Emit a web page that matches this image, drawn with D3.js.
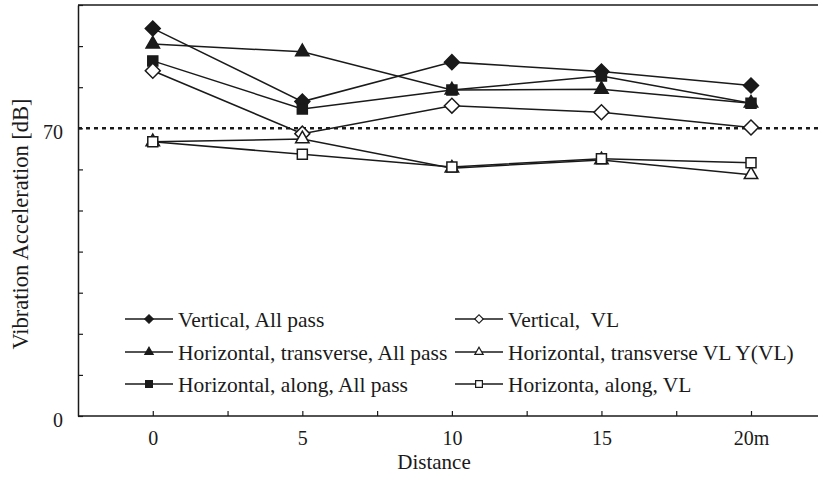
<!DOCTYPE html>
<html>
<head>
<meta charset="utf-8">
<script src="https://cdn.jsdelivr.net/npm/d3@7"></script>
<style>
  body { margin: 0; background: #fff; }
  text { font-family: "Liberation Serif", "Times New Roman", serif; fill: #1a1a1a; }
</style>
</head>
<body>
<svg width="818" height="479"></svg>
<script>
var distances = [0, 5, 10, 15, 20];
var xTickLabels = ["0", "5", "10", "15", "20m"];
var yTickLabels = {0: "0", 70: "70"};

var vertAll = [94.3, 76.5, 86.1, 83.8, 80.4];
var horTransAll = [90.5, 88.6, 79.3, 79.5, 76.1];
var horAlongAll = [86.4, 74.7, 79.3, 82.7, 76.1];
var vertVL = [84.0, 68.7, 75.5, 73.9, 70.2];
var horTransVL = [66.7, 67.4, 60.3, 62.3, 58.7];
var horAlongVL = [66.7, 63.7, 60.6, 62.6, 61.6];
var threshold = 70;

var series = [
  {name: "Vertical, All pass", values: vertAll, shape: "diamond", filled: true},
  {name: "Horizontal, transverse, All pass", values: horTransAll, shape: "triangle", filled: true},
  {name: "Horizontal, along, All pass", values: horAlongAll, shape: "square", filled: true},
  {name: "Vertical,  VL", values: vertVL, shape: "diamond", filled: false},
  {name: "Horizontal, transverse VL Y(VL)", values: horTransVL, shape: "triangle", filled: false},
  {name: "Horizonta, along, VL", values: horAlongVL, shape: "square", filled: false}
];

var svg = d3.select("svg"),
    margin = {top: 5, right: 0, bottom: 63, left: 78},
    width = +svg.attr("width") - margin.left - margin.right,
    height = +svg.attr("height") - margin.top - margin.bottom,
    g = svg.append("g").attr("transform", "translate(" + margin.left + "," + margin.top + ")");

var x = d3.scaleLinear().domain([-2.5, 22.24]).range([0, width]);
var y = d3.scaleLinear().domain([0, 100]).range([height, 0]);

// frame: top line, left and bottom axes
g.append("line").attr("x1", 0).attr("x2", width).attr("y1", 0).attr("y2", 0)
  .attr("stroke", "#1a1a1a").attr("stroke-width", 1.5);

var xAxis = g.append("g")
  .attr("transform", "translate(0," + height + ")")
  .call(d3.axisBottom(x)
    .tickValues(d3.range(0, 22.5, 2.5))
    .tickSizeInner(-5).tickSizeOuter(0)
    .tickFormat(function(d) { var i = distances.indexOf(d); return i < 0 ? "" : xTickLabels[i]; }));
xAxis.select(".domain").attr("stroke", "#1a1a1a").attr("stroke-width", 1.5).attr("d", "M0,0H" + width);
xAxis.selectAll(".tick line").attr("stroke", "#1a1a1a").attr("stroke-width", 1.2);
xAxis.selectAll(".tick text").attr("y", 22).attr("dy", "0.35em").style("font-size", "20px").attr("fill", "#1a1a1a");

var yAxis = g.append("g")
  .call(d3.axisLeft(y)
    .tickValues(d3.range(0, 101, 10))
    .tickSizeInner(-5).tickSizeOuter(0)
    .tickFormat(function(d) { return yTickLabels[d] || ""; }));
yAxis.select(".domain").attr("stroke", "#1a1a1a").attr("stroke-width", 1.5);
yAxis.selectAll(".tick line").attr("stroke", "#1a1a1a").attr("stroke-width", 1.2);
yAxis.selectAll(".tick text").attr("x", -15).attr("dy", "0.5em").style("font-size", "20px").attr("fill", "#1a1a1a");

// dotted 70 dB line
g.append("line")
  .attr("x1", 0).attr("x2", width)
  .attr("y1", y(threshold)).attr("y2", y(threshold))
  .attr("stroke", "#1a1a1a").attr("stroke-width", 2.5)
  .attr("stroke-dasharray", "4,4");

// diamond = square turned 45 degrees
var symbolFor = {diamond: d3.symbolSquare, triangle: d3.symbolTriangle, square: d3.symbolSquare};
var rotateFor = {diamond: 45, triangle: 0, square: 0};
var sizeFor = {diamond: 112, triangle: 78, square: 100};
var legendSizeFor = {diamond: 36, triangle: 30, square: 46};

var line = d3.line()
  .x(function(d, i) { return x(distances[i]); })
  .y(function(d) { return y(d); });

series.forEach(function(s) {
  g.append("path")
    .datum(s.values)
    .attr("fill", "none")
    .attr("stroke", "#1a1a1a")
    .attr("stroke-width", 1.5)
    .attr("d", line);
});

series.forEach(function(s) {
  g.selectAll(null)
    .data(s.values)
    .enter().append("path")
      .attr("transform", function(d, i) {
        return "translate(" + x(distances[i]) + "," + y(d) + ") rotate(" + rotateFor[s.shape] + ")";
      })
      .attr("d", d3.symbol().type(symbolFor[s.shape]).size(sizeFor[s.shape]))
      .attr("fill", s.filled ? "#1a1a1a" : "#fff")
      .attr("stroke", "#1a1a1a")
      .attr("stroke-width", 1.5);
});

// legend
var legend = svg.append("g");
var legendCols = [125, 455], legendRows = [319, 352, 384];
series.forEach(function(s, i) {
  var col = Math.floor(i / 3), row = i % 3;
  var lx = legendCols[col], ly = legendRows[row];
  var item = legend.append("g").attr("transform", "translate(" + lx + "," + ly + ")");
  item.append("line").attr("x1", 0).attr("x2", 48).attr("y1", 0).attr("y2", 0)
    .attr("stroke", "#1a1a1a").attr("stroke-width", 1.5);
  item.append("path")
    .attr("transform", "translate(24,0) rotate(" + rotateFor[s.shape] + ")")
    .attr("d", d3.symbol().type(symbolFor[s.shape]).size(legendSizeFor[s.shape]))
    .attr("fill", s.filled ? "#1a1a1a" : "#fff")
    .attr("stroke", "#1a1a1a").attr("stroke-width", 1.2);
  item.append("text").attr("x", 53).attr("dy", "0.35em")
    .style("font-size", "21.5px").style("white-space", "pre")
    .attr("xml:space", "preserve")
    .text(s.name);
});

// axis titles
svg.append("text")
  .attr("x", 434).attr("y", 469)
  .attr("text-anchor", "middle")
  .style("font-size", "21px")
  .text("Distance");

svg.append("text")
  .attr("transform", "translate(20," + 224 + ") rotate(-90)")
  .attr("text-anchor", "middle")
  .attr("dy", "0.35em")
  .style("font-size", "22.5px")
  .text("Vibration Acceleration [dB]");
</script>
</body>
</html>
